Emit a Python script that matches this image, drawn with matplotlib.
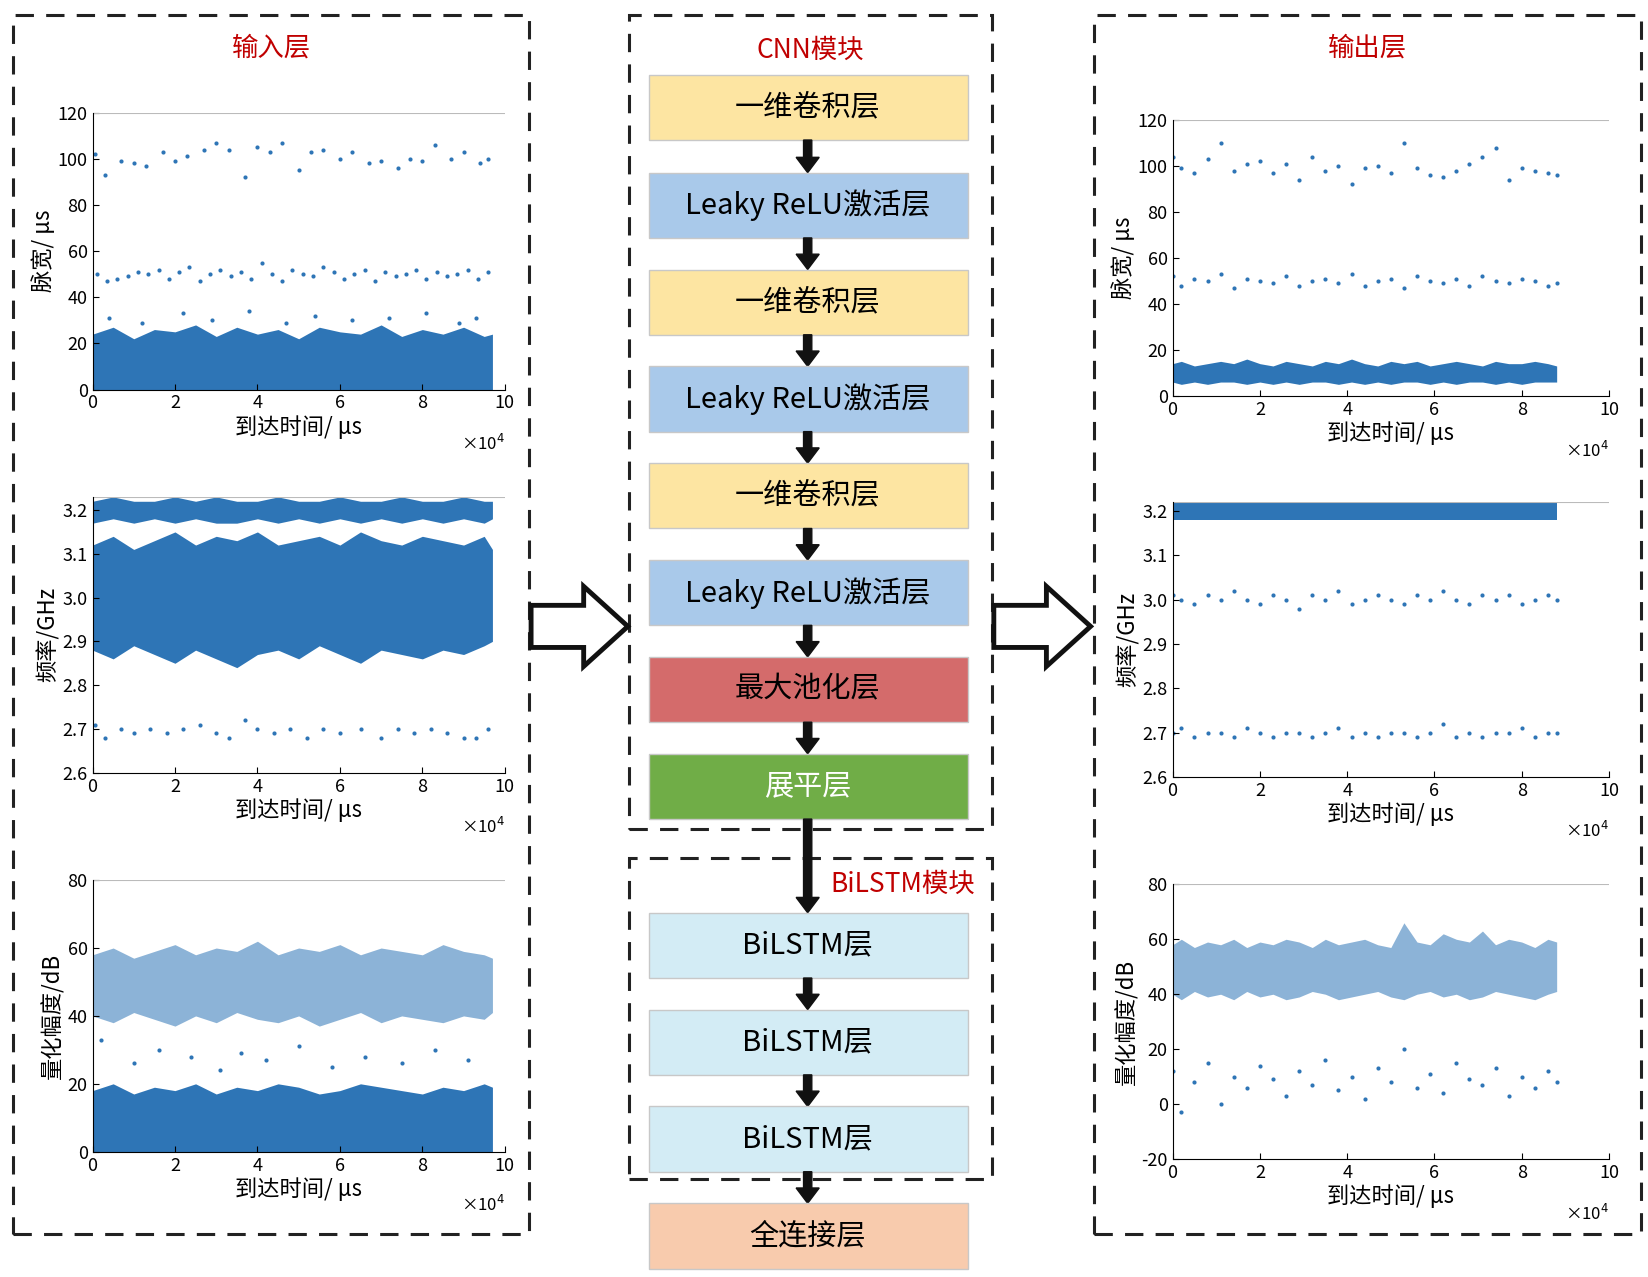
import matplotlib.pyplot as plt
from matplotlib.patches import Rectangle, FancyArrow, Polygon

plt.rcParams['font.family'] = ['Noto Sans CJK SC', 'DejaVu Sans']

W, H = 1568, 1213
BLUE = '#2e75b6'
RED = '#c00000'

# ---- data (x in units of 1e4 us) ----
edge_x = [0, 0.5, 1, 1.5, 2, 2.5, 3, 3.5, 4, 4.5, 5, 5.5, 6, 6.5, 7, 7.5, 8, 8.5, 9, 9.5, 9.7]

in_pw_top_x = [0.05, 0.3, 0.7, 1.0, 1.3, 1.7, 2.0, 2.3, 2.7, 3.0, 3.3, 3.7, 4.0, 4.3, 4.6, 5.0, 5.3, 5.6,
               6.0, 6.3, 6.7, 7.0, 7.4, 7.7, 8.0, 8.3, 8.7, 9.0, 9.4, 9.6]
in_pw_top_y = [102, 93, 99, 98, 97, 103, 99, 101, 104, 107, 104, 92, 105, 103, 107, 95, 103, 104,
               100, 103, 98, 99, 96, 100, 99, 106, 100, 103, 98, 100]
mid_x = [0.1, 0.35, 0.6, 0.85, 1.1, 1.35, 1.6, 1.85, 2.1, 2.35, 2.6, 2.85, 3.1, 3.35, 3.6, 3.85, 4.1, 4.35,
         4.6, 4.85, 5.1, 5.35, 5.6, 5.85, 6.1, 6.35, 6.6, 6.85, 7.1, 7.35, 7.6, 7.85, 8.1, 8.35, 8.6, 8.85,
         9.1, 9.35, 9.6]
in_pw_mid_y = [50, 47, 48, 49, 51, 50, 52, 48, 51, 53, 47, 50, 52, 49, 51, 48, 55, 50, 47, 52, 50, 49, 53,
               51, 48, 50, 52, 47, 51, 49, 50, 52, 48, 51, 49, 50, 52, 48, 51]
in_pw_band_hi = [24, 27, 22, 26, 25, 28, 23, 27, 24, 26, 22, 27, 25, 24, 28, 23, 26, 24, 27, 23, 24]
in_pw_out_x = [0.4, 1.2, 2.2, 2.9, 3.8, 4.7, 5.4, 6.3, 7.2, 8.1, 8.9, 9.3]
in_pw_out_y = [31, 29, 33, 30, 34, 29, 32, 30, 31, 33, 29, 31]

in_fq_top_lo = [3.17, 3.18, 3.17, 3.18, 3.17, 3.18, 3.17, 3.17, 3.18, 3.17, 3.18, 3.17, 3.18, 3.17, 3.18,
                3.17, 3.18, 3.17, 3.18, 3.17, 3.18]
in_fq_top_hi = [3.22, 3.23, 3.22, 3.22, 3.23, 3.22, 3.23, 3.22, 3.22, 3.23, 3.22, 3.22, 3.23, 3.22, 3.22,
                3.23, 3.22, 3.22, 3.23, 3.22, 3.22]
in_fq_band_lo = [2.88, 2.86, 2.89, 2.87, 2.85, 2.88, 2.86, 2.84, 2.87, 2.88, 2.86, 2.89, 2.87, 2.85, 2.88,
                 2.87, 2.86, 2.88, 2.87, 2.89, 2.90]
in_fq_band_hi = [3.12, 3.14, 3.11, 3.13, 3.15, 3.12, 3.14, 3.13, 3.15, 3.12, 3.13, 3.14, 3.12, 3.15, 3.13,
                 3.12, 3.14, 3.13, 3.12, 3.14, 3.11]
in_fq_low_x = [0.05, 0.3, 0.7, 1.0, 1.4, 1.8, 2.2, 2.6, 3.0, 3.3, 3.7, 4.0, 4.4, 4.8, 5.2, 5.6, 6.0, 6.5,
               7.0, 7.4, 7.8, 8.2, 8.6, 9.0, 9.3, 9.6]
in_fq_low_y = [2.71, 2.68, 2.70, 2.69, 2.70, 2.69, 2.70, 2.71, 2.69, 2.68, 2.72, 2.70, 2.69, 2.70, 2.68,
               2.70, 2.69, 2.70, 2.68, 2.70, 2.69, 2.70, 2.69, 2.68, 2.68, 2.70]

in_am_up_lo = [40, 38, 41, 39, 37, 40, 38, 41, 39, 38, 40, 37, 39, 41, 38, 40, 39, 38, 40, 39, 41]
in_am_up_hi = [58, 60, 57, 59, 61, 58, 60, 59, 62, 58, 60, 59, 61, 58, 60, 59, 58, 61, 59, 58, 57]
in_am_band_hi = [18, 20, 17, 19, 18, 20, 17, 19, 18, 20, 19, 17, 18, 20, 19, 18, 17, 19, 18, 20, 19]
in_am_out_x = [0.2, 1.0, 1.6, 2.4, 3.1, 3.6, 4.2, 5.0, 5.8, 6.6, 7.5, 8.3, 9.1]
in_am_out_y = [33, 26, 30, 28, 24, 29, 27, 31, 25, 28, 26, 30, 27]

out_x = [0.0, 0.2, 0.5, 0.8, 1.1, 1.4, 1.7, 2.0, 2.3, 2.6, 2.9, 3.2, 3.5, 3.8, 4.1, 4.4, 4.7, 5.0, 5.3, 5.6,
         5.9, 6.2, 6.5, 6.8, 7.1, 7.4, 7.7, 8.0, 8.3, 8.6, 8.8]
out_pw_top_y = [104, 99, 97, 103, 110, 98, 101, 102, 97, 101, 94, 104, 98, 100, 92, 99, 100, 97, 110, 99,
                96, 95, 98, 101, 104, 108, 94, 99, 98, 97, 96]
out_pw_mid_y = [52, 48, 51, 50, 53, 47, 51, 50, 49, 52, 48, 50, 51, 49, 53, 48, 50, 51, 47, 52, 50, 49, 51,
                48, 52, 50, 49, 51, 50, 48, 49]
out_pw_band_lo = [6, 5, 6, 5, 6, 6, 5, 6, 5, 6, 5, 6, 6, 5, 6, 5, 6, 5, 6, 6, 5, 6, 5, 6, 6, 5, 6, 5, 6, 6, 6]
out_pw_band_hi = [14, 15, 13, 14, 15, 14, 16, 14, 13, 15, 14, 13, 15, 14, 16, 14, 13, 15, 14, 15, 13, 14,
                  15, 14, 13, 15, 14, 14, 15, 14, 13]
out_fq_mid_y = [3.01, 3.00, 2.99, 3.01, 3.00, 3.02, 3.00, 2.99, 3.01, 3.00, 2.98, 3.01, 3.00, 3.02, 2.99,
                3.00, 3.01, 3.00, 2.99, 3.01, 3.00, 3.02, 3.00, 2.99, 3.01, 3.00, 3.01, 2.99, 3.00, 3.01, 3.00]
out_fq_low_y = [2.70, 2.71, 2.69, 2.70, 2.70, 2.69, 2.71, 2.70, 2.69, 2.70, 2.70, 2.69, 2.70, 2.71, 2.69,
                2.70, 2.69, 2.70, 2.70, 2.69, 2.70, 2.72, 2.69, 2.70, 2.69, 2.70, 2.70, 2.71, 2.69, 2.70, 2.70]
out_am_lo = [40, 38, 41, 39, 40, 38, 41, 39, 40, 38, 39, 41, 40, 38, 39, 40, 41, 39, 38, 40, 41, 39, 40,
             38, 39, 41, 40, 39, 38, 40, 41]
out_am_hi = [58, 60, 57, 59, 58, 60, 57, 59, 58, 60, 59, 57, 60, 58, 59, 60, 58, 57, 66, 59, 58, 62, 60,
             59, 63, 58, 60, 59, 57, 60, 59]
out_am_low_y = [12, -3, 8, 15, 0, 10, 6, 14, 9, 3, 12, 7, 16, 5, 10, 2, 13, 8, 20, 6, 11, 4, 15, 9, 7, 13,
                3, 10, 6, 12, 8]

cnn_layers = ['一维卷积层', 'Leaky ReLU激活层', '一维卷积层', 'Leaky ReLU激活层', '一维卷积层',
              'Leaky ReLU激活层', '最大池化层', '展平层']
cnn_colors = ['#fde5a2', '#a9c9ea', '#fde5a2', '#a9c9ea', '#fde5a2', '#a9c9ea', '#d46b6b', '#70ad47']
lstm_layers = ['BiLSTM层', 'BiLSTM层', 'BiLSTM层', '全连接层']
lstm_colors = ['#d3ecf5', '#d3ecf5', '#d3ecf5', '#f8cbad']

fig = plt.figure(figsize=(16.49, 12.77), dpi=100)


def fx(x):
    return x / W


def fy(y):
    return 1 - y / H


def dashed_box(x0, y0, x1, y1):
    fig.patches.append(Rectangle((fx(x0), fy(y1)), fx(x1 - x0), (y1 - y0) / H, fill=False,
                                 ls=(0, (6, 4)), lw=2.2, ec='#222222', transform=fig.transFigure))


def make_ax(x0, y0, x1, y1, ylim, yticks, ylabel, fmt='{:g}'):
    ax = fig.add_axes([fx(x0), fy(y1), fx(x1 - x0), (y1 - y0) / H])
    ax.set_xlim(0, 10)
    ax.set_ylim(*ylim)
    ax.set_xticks(range(0, 11, 2))
    ax.set_yticks(yticks)
    ax.set_yticklabels([fmt.format(v) for v in yticks])
    ax.tick_params(direction='in', labelsize=13, length=4)
    for s in ['top', 'right']:
        ax.spines[s].set_visible(False)
    ax.axhline(ylim[1], color='#bbbbbb', lw=0.8)
    ax.set_xlabel('到达时间/ μs', fontsize=16, labelpad=2)
    ax.set_ylabel(ylabel, fontsize=16, labelpad=2)
    ax.text(1.0, -0.22, '×10$^4$', transform=ax.transAxes, ha='right', fontsize=12)
    return ax


def pts(ax, x, y):
    ax.scatter(x, y, s=9, color=BLUE, linewidths=0)


# ---- left panel ----
dashed_box(12, 14, 503, 1172)
fig.text(fx(258), fy(46), '输入层', color=RED, fontsize=19, ha='center', va='center')
a = make_ax(88, 107, 480, 370, (0, 120), range(0, 121, 20), '脉宽/ μs')
pts(a, in_pw_top_x, in_pw_top_y)
pts(a, mid_x, in_pw_mid_y)
a.fill_between(edge_x, 0, in_pw_band_hi, color=BLUE, lw=0)
pts(a, in_pw_out_x, in_pw_out_y)

a = make_ax(88, 472, 480, 734, (2.6, 3.23), [2.6, 2.7, 2.8, 2.9, 3.0, 3.1, 3.2], '频率/GHz', '{:.1f}')
a.fill_between(edge_x, in_fq_top_lo, in_fq_top_hi, color=BLUE, lw=0)
a.fill_between(edge_x, in_fq_band_lo, in_fq_band_hi, color=BLUE, lw=0)
pts(a, in_fq_low_x, in_fq_low_y)

a = make_ax(88, 836, 480, 1094, (0, 80), range(0, 81, 20), '量化幅度/dB')
a.fill_between(edge_x, in_am_up_lo, in_am_up_hi, color=BLUE, lw=0, alpha=0.55)
a.fill_between(edge_x, 0, in_am_band_hi, color=BLUE, lw=0)
pts(a, in_am_out_x, in_am_out_y)

# ---- right panel ----
dashed_box(1040, 14, 1560, 1172)
fig.text(fx(1300), fy(46), '输出层', color=RED, fontsize=19, ha='center', va='center')
a = make_ax(1115, 114, 1530, 376, (0, 120), range(0, 121, 20), '脉宽/ μs')
pts(a, out_x, out_pw_top_y)
pts(a, out_x, out_pw_mid_y)
a.fill_between(out_x, out_pw_band_lo, out_pw_band_hi, color=BLUE, lw=0)

a = make_ax(1115, 477, 1530, 738, (2.6, 3.22), [2.6, 2.7, 2.8, 2.9, 3.0, 3.1, 3.2], '频率/GHz', '{:.1f}')
a.fill_between(out_x, 3.18, 3.22, color=BLUE, lw=0)
pts(a, out_x, out_fq_mid_y)
pts(a, out_x, out_fq_low_y)

a = make_ax(1115, 840, 1530, 1101, (-20, 80), range(-20, 81, 20), '量化幅度/dB')
a.fill_between(out_x, out_am_lo, out_am_hi, color=BLUE, lw=0, alpha=0.55)
pts(a, out_x, out_am_low_y)

# ---- middle network ----
dashed_box(598, 14, 943, 787)
dashed_box(598, 815, 943, 1120)
fig.text(fx(770), fy(48), 'CNN模块', color=RED, fontsize=19, ha='center', va='center')
fig.text(fx(858), fy(840), 'BiLSTM模块', color=RED, fontsize=19, ha='center', va='center')

centers = [102, 195, 287, 379, 471, 563, 655, 747, 898, 990, 1082, 1174]
names = cnn_layers + lstm_layers
colors = cnn_colors + lstm_colors
bh = 62
for i, (cy, name, col) in enumerate(zip(centers, names, colors)):
    fig.patches.append(Rectangle((fx(617), fy(cy + bh / 2)), fx(303), bh / H, fc=col,
                                 ec='#c8c8c8', lw=1, transform=fig.transFigure))
    tc = 'white' if col in ('#70ad47',) else 'black'
    fig.text(fx(768), fy(cy), name, fontsize=21, ha='center', va='center', color=tc)
    if i < len(centers) - 1:
        y0 = cy + bh / 2
        y1 = centers[i + 1] - bh / 2
        fig.patches.append(FancyArrow(fx(768), fy(y0), 0, -(y1 - y0) / H, width=0.005,
                                      head_width=0.014, head_length=0.012, length_includes_head=True,
                                      color='#111111', transform=fig.transFigure))

# big hollow arrows
for x0 in (505, 945):
    xs = [x0, x0 + 50, x0 + 50, x0 + 92, x0 + 50, x0 + 50, x0]
    ys = [575, 575, 557, 595, 633, 615, 615]
    fig.patches.append(Polygon([(fx(a_), fy(b_)) for a_, b_ in zip(xs, ys)], closed=True, fill=True,
                               fc='white', ec='#111111', lw=3.5, transform=fig.transFigure))

fig.savefig('out.png', dpi=100)
